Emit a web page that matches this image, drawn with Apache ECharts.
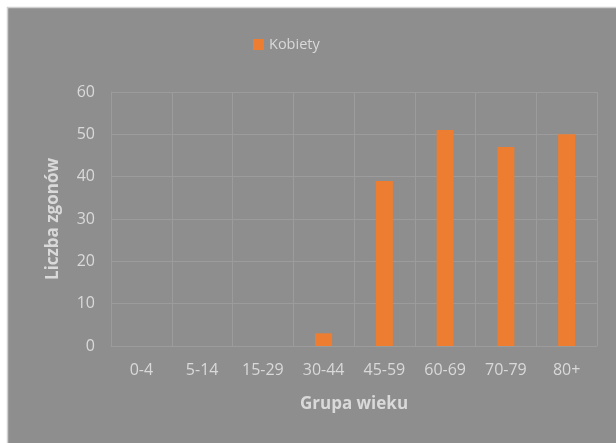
<!DOCTYPE html>
<html><head><meta charset="utf-8">
<script src="https://cdn.jsdelivr.net/npm/echarts@6/dist/echarts.min.js"></script>
<style>html,body{margin:0;padding:0;background:#fff}#c{width:616px;height:443px}</style>
</head><body><div id="c"></div>
<script>
var categories = ['0-4','5-14','15-29','30-44','45-59','60-69','70-79','80+'];
var kobiety = [0,0,0,3,39,51,47,50];
var yTicks = {min:0, max:60, interval:10};
var seriesName = 'Kobiety';
var xTitle = 'Grupa wieku';
var yTitle = 'Liczba zgonów';

var chart = echarts.init(document.getElementById('c'), null, {renderer:'canvas'});
var txt = '#d9d9d9', grid = '#9c9c9c', font = 'Open Sans';
chart.setOption({
  backgroundColor:'#ffffff',
  animation:false,
  graphic:[{type:'rect', z:-10, silent:true, shape:{x:7.5,y:7.5,width:620,height:450},
    style:{fill:'#8e8e8e', stroke:'#d0d0d0', lineWidth:1.5}}],
  legend:{data:[seriesName], left:248, top:32, itemWidth:11, itemHeight:11, itemGap:3,
    icon:'rect', textStyle:{color:txt, fontSize:14.5, fontFamily:font}},
  grid:{left:111, top:92, right:19, bottom:97},
  xAxis:{type:'category', data:categories, name:xTitle, nameLocation:'middle', nameGap:50,
    nameTextStyle:{color:txt, fontSize:17, fontWeight:'bold', fontFamily:font},
    axisLine:{lineStyle:{color:grid}}, axisTick:{show:false},
    axisLabel:{color:txt, fontSize:16, fontFamily:font, margin:16},
    splitLine:{show:true, lineStyle:{color:grid}}},
  yAxis:{type:'value', min:yTicks.min, max:yTicks.max, interval:yTicks.interval,
    name:yTitle, nameLocation:'middle', nameGap:49,
    nameTextStyle:{color:txt, fontSize:17, fontWeight:'bold', fontFamily:font},
    axisLine:{show:true, lineStyle:{color:grid}}, axisTick:{show:false},
    axisLabel:{color:txt, fontSize:16, fontFamily:font, margin:16},
    splitLine:{show:true, lineStyle:{color:grid}}},
  series:[{name:seriesName, type:'bar', data:kobiety, barWidth:17,
    itemStyle:{color:'#ed7d31'}}]
});
</script></body></html>
